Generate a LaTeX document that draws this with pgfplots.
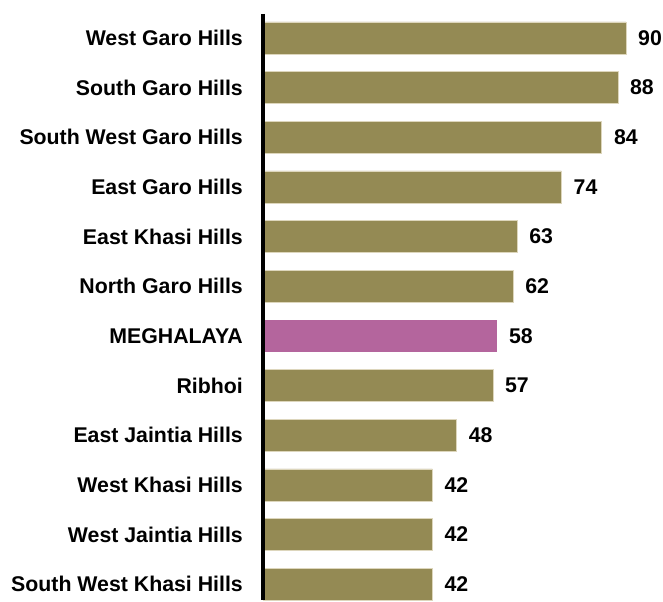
\documentclass[border=0pt]{standalone}
\usepackage{fontspec}
\setmainfont{Liberation Sans}
\usepackage{pgfplots}
\pgfplotsset{compat=1.18}
\definecolor{olive}{HTML}{948A54}
\definecolor{pinkbar}{HTML}{B4659D}
\definecolor{edge}{HTML}{DDD6BC}
\begin{document}
\begin{tikzpicture}
\begin{axis}[
  name=ax,
  scale only axis,
  width=400pt, height=586pt,
  xmin=0, xmax=99.2,
  ymin=-0.483, ymax=11.32,
  y dir=reverse,
  xbar, bar width=32pt, bar shift=0pt,
  hide x axis,
  axis on top,
  axis y line*=left,
  axis line style={line width=3.3pt, black, -},
  ytick={0,...,11},
  yticklabels={West Garo Hills,South Garo Hills,South West Garo Hills,East Garo Hills,East Khasi Hills,North Garo Hills,MEGHALAYA,Ribhoi,East Jaintia Hills,West Khasi Hills,West Jaintia Hills,South West Khasi Hills},
  major tick length=0pt,
  yticklabel style={font=\fontsize{21.3}{25}\selectfont\bfseries, inner sep=0pt, xshift=-20pt},
  /pgf/number format/assume math mode=true,
  nodes near coords,
  nodes near coords style={font=\fontsize{21.3}{25}\selectfont\bfseries, anchor=west, inner sep=0pt, xshift=12pt, text=black},
  clip=false,
]
\addplot[fill=olive, draw=edge, line width=0.6pt] coordinates {
 (90,0) (88,1) (84,2) (74,3) (63,4) (62,5) (57,7) (48,8) (42,9) (42,10) (42,11)};
\addplot[fill=pinkbar, draw=none] coordinates {(58,6)};
\end{axis}
\path (ax.north west) ++(-263pt,14pt) coordinate (bbA);
\path (ax.south east) ++(0pt,-1pt) coordinate (bbB);
\path (bbA) rectangle (bbB);
\end{tikzpicture}
\end{document}
